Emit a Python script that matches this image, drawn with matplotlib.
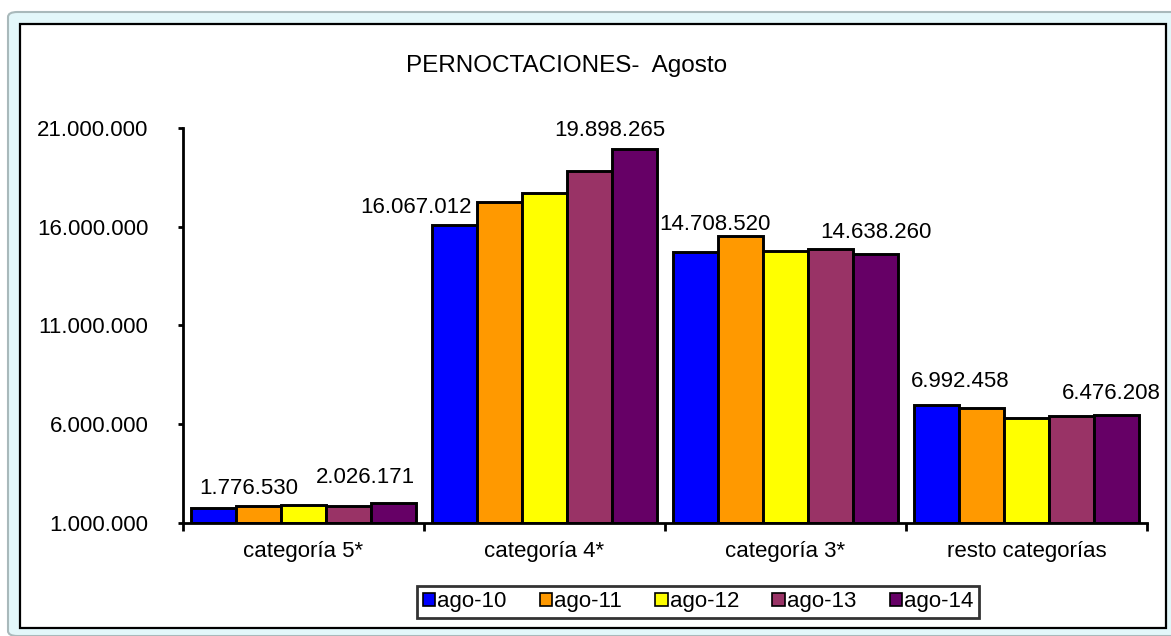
import matplotlib
matplotlib.use("Agg")
import matplotlib.pyplot as plt
import numpy as np
from matplotlib.patches import FancyBboxPatch, Rectangle, Patch
from matplotlib.ticker import FuncFormatter

plt.rcParams['font.family'] = ['Liberation Sans', 'DejaVu Sans']

CATEGORIES = ['categoría 5*', 'categoría 4*', 'categoría 3*', 'resto categorías']
SERIES = ['ago-10', 'ago-11', 'ago-12', 'ago-13', 'ago-14']
COLORS = ['#0000ff', '#ff9900', '#ffff00', '#993366', '#660066']

AGO_10 = [1776530, 16067012, 14708520, 6992458]
AGO_11 = [1850000, 17260000, 15540000, 6830000]
AGO_12 = [1950000, 17710000, 14790000, 6320000]
AGO_13 = [1870000, 18830000, 14880000, 6400000]
AGO_14 = [2026171, 19898265, 14638260, 6476208]
VALUES = [AGO_10, AGO_11, AGO_12, AGO_13, AGO_14]

Y_TICKS = [1000000, 6000000, 11000000, 16000000, 21000000]

# label offsets in pixels (dx, dy) from bar top, first and last series
LABEL_OFFSETS = {
    0: [(35, 19), (-38, 18), (20, 28), (24, 23)],
    4: [(-28, 26), (-25, 19), (0, 21), (-5, 21)],
}
FS = 16


def fmt(v):
    return f"{int(round(v)):,}".replace(",", ".")


W, H = 1171, 636
fig = plt.figure(figsize=(W / 100, H / 100), dpi=100)
fig.patch.set_facecolor('white')

# outer selection frame and inner chart area
fig.patches.append(FancyBboxPatch((8 / W, 0), (W + 10) / W, (H - 12) / H,
                                  boxstyle="round,pad=0,rounding_size=0.008",
                                  transform=fig.transFigure, facecolor='#e3f7fa',
                                  edgecolor='#a9b9bb', linewidth=1.5, zorder=0))
fig.patches.append(Rectangle((20 / W, 8 / H), 1146 / W, 604 / H,
                             transform=fig.transFigure, facecolor='white',
                             edgecolor='black', linewidth=1.6, zorder=0.5))

ax = fig.add_axes([183 / W, 1 - 523.3 / H, 964 / W, 395.6 / H])
ax.set_zorder(2)
ax.set_facecolor('none')

x = np.arange(len(CATEGORIES))
bw = 0.187
for i, (name, vals, col) in enumerate(zip(SERIES, VALUES, COLORS)):
    pos = x + (i - 2) * bw
    ax.bar(pos, np.array(vals) - Y_TICKS[0], bottom=Y_TICKS[0], width=bw,
           color=col, edgecolor='black', linewidth=2.1, label=name, zorder=2)
    if i in LABEL_OFFSETS:
        for j, v in enumerate(vals):
            dx, dy = LABEL_OFFSETS[i][j]
            ax.annotate(fmt(v), (pos[j], v), xytext=(dx, dy),
                        textcoords='offset pixels', ha='center', va='center',
                        fontsize=FS, color='black', annotation_clip=False)

ax.set_xlim(-0.5, len(CATEGORIES) - 0.5)
ax.set_ylim(Y_TICKS[0], Y_TICKS[-1])
ax.set_yticks(Y_TICKS)
ax.yaxis.set_major_formatter(FuncFormatter(lambda v, p: fmt(v)))
ax.set_xticks(np.arange(len(CATEGORIES) + 1) - 0.5)
ax.set_xticklabels([])
ax.set_xticks(x, minor=True)
ax.set_xticklabels(CATEGORIES, minor=True)
ax.tick_params(axis='x', which='major', direction='out', length=6, width=2)
ax.tick_params(axis='x', which='minor', length=0, pad=13, labelsize=FS)
ax.tick_params(axis='y', direction='out', length=3.5, width=2, pad=21.5, labelsize=FS)

for s in ['top', 'right']:
    ax.spines[s].set_visible(False)
for s in ['left', 'bottom']:
    ax.spines[s].set_linewidth(2)

fig.text(567 / W, 1 - 66 / H, 'PERNOCTACIONES-  Agosto', ha='center', va='center',
         fontsize=17.5, zorder=3)

handles = [Patch(facecolor=c, edgecolor='black', linewidth=1.2) for c in COLORS]
leg = fig.legend(handles, SERIES, loc='center', bbox_to_anchor=(698 / W, 1 - 602 / H),
                 ncol=5, fontsize=FS, frameon=True, fancybox=False,
                 handlelength=0.55, handleheight=0.55, handletextpad=0.1,
                 columnspacing=1.5, borderpad=0.25, borderaxespad=0)
leg.set_zorder(3)
leg.get_frame().set_edgecolor('black')
leg.get_frame().set_linewidth(2)

fig.savefig('out.png', dpi=100, facecolor=fig.get_facecolor())
